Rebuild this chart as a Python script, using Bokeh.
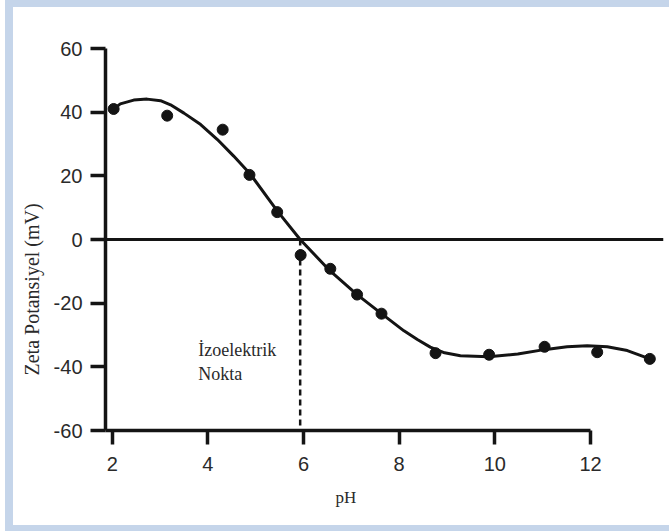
from bokeh.plotting import figure
from bokeh.models import Label, Span, FixedTicker, Range1d, Title, PrintfTickFormatter
from bokeh.embed import file_html
from bokeh.resources import INLINE

# measured points (pH, zeta potential mV)
ph_points = [2.03, 3.15, 4.31, 4.87, 5.45, 5.94, 6.56, 7.12, 7.63, 8.76, 9.88, 11.04, 12.14, 13.24]
zeta_points = [41.0, 38.9, 34.5, 20.3, 8.6, -4.9, -9.2, -17.3, -23.3, -35.7, -36.2, -33.7, -35.4, -37.5]

# fitted curve
curve_ph = [2.03, 2.17, 2.45, 2.73, 3.01, 3.22, 3.50, 3.85, 4.20, 4.54, 4.89, 5.45, 5.93,
            6.55, 7.12, 7.63, 8.10, 8.38, 8.65, 8.95, 9.28, 9.87, 10.48, 11.03, 11.51, 11.93,
            12.35, 12.77, 13.24]
curve_zeta = [41.0, 42.6, 43.8, 44.1, 43.6, 42.3, 39.7, 36.1, 31.4, 26.2, 20.5, 9.0, 0.0,
              -9.8, -17.3, -23.3, -28.7, -31.4, -33.8, -35.6, -36.5, -36.8, -36.0, -34.6, -33.7, -33.4,
              -33.7, -34.9, -37.5]

x_ticks = [2, 4, 6, 8, 10, 12]
y_ticks = [-60, -40, -20, 0, 20, 40, 60]
isoelectric_ph = 5.93

x_label = "pH"
y_label = "Zeta Potansiyel (mV)"
note_lines = ["İzoelektrik", "Nokta"]

INK = "#141414"
TEXT = "#2a2a2a"
FRAME = "#c5d5ea"

p = figure(width=669, height=531, output_backend="svg", toolbar_location=None,
           x_range=Range1d(1.86, 13.526), y_range=Range1d(-60, 60),
           min_border_left=105, min_border_top=48, min_border_bottom=101, min_border_right=6)
g = "linear-gradient(%s,%s)" % (FRAME, FRAME)
w = "linear-gradient(white,white)"
p.styles = {
    "background": (f"{w} 0px 0px / 5px 100% no-repeat, "
                   f"{g} 5px 0px / 100% 7px no-repeat, "
                   f"{g} 5px 525px / 100% 6px no-repeat, "
                   f"{g} 5px 0px / 8px 100% no-repeat, white"),
}
p.background_fill_color = "white"
p.border_fill_color = None
p.outline_line_color = None
p.xgrid.visible = False
p.ygrid.visible = False

for ax in (p.xaxis[0], p.yaxis[0]):
    ax.axis_line_color = INK
    ax.axis_line_width = 3.5
    ax.major_tick_line_color = INK
    ax.major_tick_line_width = 3.5
    ax.major_tick_in = 0
    ax.minor_tick_line_color = None
    ax.major_label_text_font = "Liberation Sans"
    ax.major_label_text_font_size = "20px"
    ax.major_label_text_color = TEXT
    ax.formatter = PrintfTickFormatter(format="%d")

p.xaxis.ticker = FixedTicker(ticks=x_ticks)
p.yaxis.ticker = FixedTicker(ticks=y_ticks)
p.xaxis.bounds = (1.86, 12)
p.yaxis.bounds = (-60, 60)
p.xaxis.major_tick_out = 14
p.yaxis.major_tick_out = 15
p.xaxis.major_label_standoff = 12
p.yaxis.major_label_standoff = 8

# axis titles placed as titles so they can be offset like the original
p.add_layout(Title(text=x_label, align="left", offset=230, text_font="Liberation Serif",
                   text_font_size="17px", text_color=TEXT, text_font_style="normal",
                   standoff=25), "below")
p.add_layout(Title(text=y_label, align="left", offset=55, text_font="Liberation Serif",
                   text_font_size="20px", text_color=TEXT, text_font_style="normal",
                   standoff=15), "left")

# zero line
p.add_layout(Span(location=0, dimension="width", line_color=INK, line_width=3))

# dashed isoelectric line
p.segment(x0=[isoelectric_ph], y0=[0], x1=[isoelectric_ph], y1=[-60],
          line_color=INK, line_width=2.5, line_dash="6 4")

p.line(curve_ph, curve_zeta, line_color=INK, line_width=3)
p.scatter(ph_points, zeta_points, size=11, fill_color=INK, line_color=INK)

p.add_layout(Label(x=3.80, y=-34.8, text=note_lines[0], text_font="Liberation Serif",
                   text_font_size="18px", text_color=TEXT, text_baseline="alphabetic"))
p.add_layout(Label(x=3.80, y=-42.3, text=note_lines[1], text_font="Liberation Serif",
                   text_font_size="18px", text_color=TEXT, text_baseline="alphabetic"))

open("out.html", "w").write(file_html(p, INLINE))
